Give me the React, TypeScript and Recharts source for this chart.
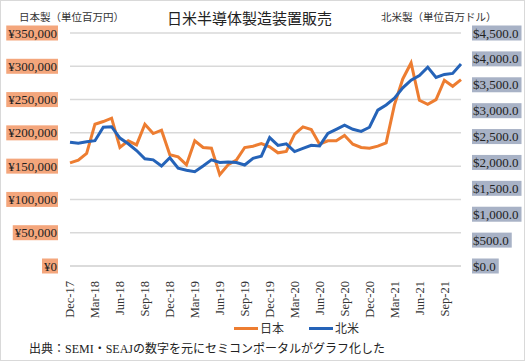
import React from 'react';
import { LineChart, Line, XAxis, YAxis, CartesianGrid } from 'recharts';

const months = [
  'Dec-17', 'Jan-18', 'Feb-18', 'Mar-18', 'Apr-18', 'May-18', 'Jun-18', 'Jul-18', 'Aug-18', 'Sep-18', 'Oct-18', 'Nov-18',
  'Dec-18', 'Jan-19', 'Feb-19', 'Mar-19', 'Apr-19', 'May-19', 'Jun-19', 'Jul-19', 'Aug-19', 'Sep-19', 'Oct-19', 'Nov-19',
  'Dec-19', 'Jan-20', 'Feb-20', 'Mar-20', 'Apr-20', 'May-20', 'Jun-20', 'Jul-20', 'Aug-20', 'Sep-20', 'Oct-20', 'Nov-20',
  'Dec-20', 'Jan-21', 'Feb-21', 'Mar-21', 'Apr-21', 'May-21', 'Jun-21', 'Jul-21', 'Aug-21', 'Sep-21', 'Oct-21', 'Nov-21',
];

// 日本製 (百万円)
const japan = [
  155000, 159000, 169000, 213000, 217000, 222000, 178000, 188000, 182000, 213000, 199000, 204000,
  167000, 164000, 152000, 188000, 178000, 177000, 137000, 152000, 159000, 178000, 180000, 184000,
  179000, 170000, 172000, 198000, 209000, 205000, 183000, 188000, 188000, 196000, 183000, 178000,
  177000, 180000, 185000, 242000, 281000, 305000, 249000, 243000, 250000, 279000, 270000, 280000,
];

// 北米製 (百万ドル)
const northAmerica = [
  2390, 2370, 2400, 2420, 2680, 2690, 2470, 2360, 2230, 2070, 2050, 1930,
  2090, 1890, 1850, 1820, 1930, 2050, 2000, 2010, 2000, 1950, 2080, 2120,
  2480, 2330, 2360, 2210, 2270, 2330, 2320, 2560, 2640, 2720, 2640, 2600,
  2680, 3010, 3110, 3240, 3440, 3590, 3680, 3840, 3640, 3700, 3720, 3900,
];

const yenTicks = [0, 50000, 100000, 150000, 200000, 250000, 300000, 350000];
const usdTicks = [0, 500, 1000, 1500, 2000, 2500, 3000, 3500, 4000, 4500];

const data = months.map((m, i) => ({ month: m, jp: japan[i], na: northAmerica[i] }));

const FONT = "'Liberation Serif', 'Noto Sans CJK JP', serif";
const ORANGE = '#ED7D31';
const BLUE = '#2563B8';

// rough width of a label in Liberation Serif
const textWidth = (s: string, size: number) =>
  s.split('').reduce((w, c) => w + (c === ',' || c === '.' ? 0.25 : 0.5) * size, 0);

const YenTick = (props: any) => {
  const { y, payload } = props;
  const label = '¥' + payload.value.toLocaleString('en-US');
  const w = textWidth(label, 13);
  const right = 56;
  return (
    <g>
      <rect x={right - w - 2} y={y - 7.5} width={w + 3} height={15} fill="#F4A67C" />
      <text x={right} y={y} dy="0.35em" textAnchor="end" fontSize={13} fontFamily={FONT} fill="#222">
        {label}
      </text>
    </g>
  );
};

const UsdTick = (props: any) => {
  const { y, payload } = props;
  const label = '$' + payload.value.toLocaleString('en-US', { minimumFractionDigits: 1 });
  const w = textWidth(label, 13);
  const left = 472;
  return (
    <g>
      <rect x={left - 1} y={y - 7.5} width={w + 4} height={15} fill="#A8B2C6" />
      <text x={left} y={y} dy="0.35em" textAnchor="start" fontSize={13} fontFamily={FONT} fill="#222">
        {label}
      </text>
    </g>
  );
};

const MonthTick = (props: any) => {
  const { x, y, payload } = props;
  return (
    <text
      transform={`translate(${x},${y + 7}) rotate(-90)`}
      dy="0.35em"
      textAnchor="end"
      fontSize={12.5}
      fontFamily={FONT}
      fill="#333"
    >
      {payload.value}
    </text>
  );
};

export default function App() {
  return (
    <div
      style={{
        position: 'absolute',
        left: 0,
        top: 0,
        width: 525,
        height: 361,
        background: '#fff',
        border: '1px solid #D9D9D9',
        boxSizing: 'border-box',
        fontFamily: FONT,
      }}
    >
      <div style={{ position: 'absolute', left: 0, top: 0 }}>
        <LineChart width={525} height={361} data={data} margin={{ top: 32, right: 0, bottom: 46, left: 0 }}>
          <CartesianGrid yAxisId="jp" vertical={false} stroke="#D9D9D9" strokeWidth={1.5} />
          <XAxis
            dataKey="month"
            interval={2}
            height={50}
            tick={<MonthTick />}
            tickLine={false}
            axisLine={{ stroke: '#D9D9D9', strokeWidth: 1.5 }}
          />
          <YAxis
            yAxisId="jp"
            domain={[0, 350000]}
            ticks={yenTicks}
            width={69}
            tick={<YenTick />}
            axisLine={false}
            tickLine={false}
          />
          <YAxis
            yAxisId="na"
            orientation="right"
            domain={[0, 4500]}
            ticks={usdTicks}
            width={65}
            tick={<UsdTick />}
            axisLine={false}
            tickLine={false}
          />
          <Line yAxisId="jp" type="linear" dataKey="jp" stroke={ORANGE} strokeWidth={3} dot={false} isAnimationActive={false} />
          <Line yAxisId="na" type="linear" dataKey="na" stroke={BLUE} strokeWidth={3} dot={false} isAnimationActive={false} />
        </LineChart>
      </div>

      <div style={{ position: 'absolute', left: 166, top: 6, fontSize: 15, color: '#222' }}>
        日米半導体製造装置販売
      </div>
      <div style={{ position: 'absolute', left: 18, top: 8, fontSize: 10.5, color: '#333' }}>日本製（単位百万円）</div>
      <div style={{ position: 'absolute', left: 380, top: 8, fontSize: 10.5, color: '#333' }}>北米製（単位百万ドル）</div>

      <div style={{ position: 'absolute', left: 233, top: 318, display: 'flex', alignItems: 'center', fontSize: 12, color: '#333' }}>
        <span style={{ display: 'inline-block', width: 24, height: 3, background: ORANGE, marginRight: 2 }} />
        <span>日本</span>
        <span style={{ display: 'inline-block', width: 24, height: 3, background: BLUE, marginLeft: 25, marginRight: 2 }} />
        <span>北米</span>
      </div>

      <div style={{ position: 'absolute', left: 28, top: 338, fontSize: 12, color: '#222' }}>
        出典：SEMI・SEAJの数字を元にセミコンポータルがグラフ化した
      </div>
    </div>
  );
}
